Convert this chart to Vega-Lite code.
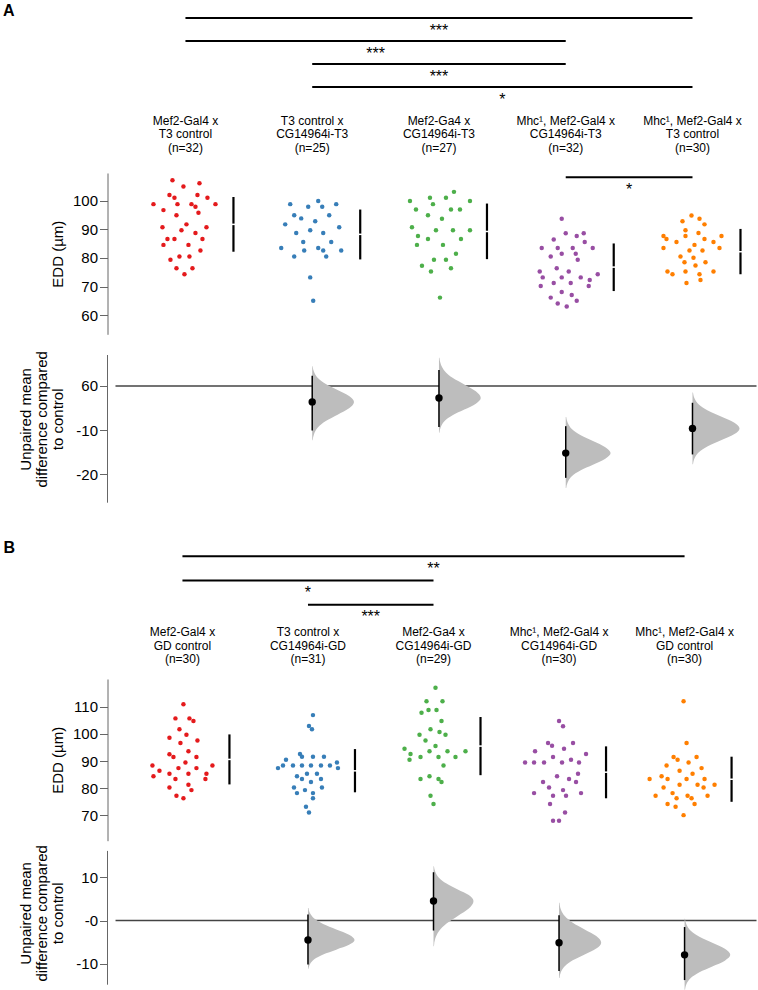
{
"$schema": "https://vega.github.io/schema/vega-lite/v6.json",
"padding": {"left": 2.5, "top": 0, "right": 0, "bottom": 0},
"bounds": "flush",
"spacing": 0,
"config": {
  "view": {"stroke": null},
  "font": "Liberation Sans",
  "axis": {"labelFontSize": 15, "titleFontSize": 15, "titleFontWeight": "normal", "labelColor": "black", "titleColor": "black", "domainColor": "#666", "tickColor": "#666", "tickSize": 8, "labelPadding": 2, "grid": false, "titleLineHeight": 16},
  "text": {"color": "black", "font": "Liberation Sans"}
},
"datasets": {
  "sigA": [{"a":1,"b":5,"r":1,"s":"***"},{"a":1,"b":4,"r":2,"s":"***"},{"a":2,"b":4,"r":3,"s":"***"},{"a":2,"b":5,"r":4,"s":"*"}],
  "sigAs": [{"a":4,"b":5,"r":108.3,"s":"*"}],
  "sigB": [{"a":1,"b":5,"r":1,"s":"**"},{"a":1,"b":3,"r":2,"s":"*"},{"a":2,"b":3,"r":3,"s":"***"}],
  "labA": [
    {"g":1,"t":"Mef2-Gal4 x\nT3 control\n(n=32)"},
    {"g":2,"t":"T3 control x\nCG14964i-T3\n(n=25)"},
    {"g":3,"t":"Mef2-Ga4 x\nCG14964i-T3\n(n=27)"},
    {"g":4,"t":"Mhc¹, Mef2-Gal4 x\nCG14964i-T3\n(n=32)"},
    {"g":5,"t":"Mhc¹, Mef2-Gal4 x\nT3 control\n(n=30)"}],
  "labB": [
    {"g":1,"t":"Mef2-Gal4 x\nGD control\n(n=30)"},
    {"g":2,"t":"T3 control x\nCG14964i-GD\n(n=31)"},
    {"g":3,"t":"Mef2-Ga4 x\nCG14964i-GD\n(n=29)"},
    {"g":4,"t":"Mhc¹, Mef2-Gal4 x\nCG14964i-GD\n(n=30)"},
    {"g":5,"t":"Mhc¹, Mef2-Gal4 x\nGD control\n(n=30)"}],
  "swA": [
    {"g":1,"v":107.3,"j":-13},{"g":1,"v":105.1,"j":-2},{"g":1,"v":106.2,"j":14},{"g":1,"v":102.1,"j":-16},{"g":1,"v":101.1,"j":-11},{"g":1,"v":102.1,"j":12},{"g":1,"v":101.1,"j":22},{"g":1,"v":98.9,"j":-32},{"g":1,"v":98.9,"j":-8},{"g":1,"v":98.9,"j":6},{"g":1,"v":98.0,"j":10},{"g":1,"v":98.9,"j":30},{"g":1,"v":96.8,"j":-22},{"g":1,"v":95.9,"j":13},{"g":1,"v":95.0,"j":-9},{"g":1,"v":91.8,"j":1},{"g":1,"v":90.8,"j":-23},{"g":1,"v":89.7,"j":-4},{"g":1,"v":88.8,"j":10},{"g":1,"v":90.8,"j":21},{"g":1,"v":86.7,"j":-18},{"g":1,"v":86.7,"j":-11},{"g":1,"v":86.7,"j":17},{"g":1,"v":84.6,"j":-22},{"g":1,"v":84.6,"j":3},{"g":1,"v":82.6,"j":15},{"g":1,"v":80.5,"j":-6},{"g":1,"v":80.5,"j":4},{"g":1,"v":79.4,"j":-15},{"g":1,"v":76.4,"j":-9},{"g":1,"v":76.4,"j":7},{"g":1,"v":74.3,"j":-1},
    {"g":2,"v":100.0,"j":6},{"g":2,"v":98.9,"j":-22},{"g":2,"v":98.0,"j":-4},{"g":2,"v":98.0,"j":10},{"g":2,"v":98.9,"j":24},{"g":2,"v":95.0,"j":-18},{"g":2,"v":93.9,"j":-11},{"g":2,"v":95.0,"j":17},{"g":2,"v":92.9,"j":3},{"g":2,"v":91.8,"j":-27},{"g":2,"v":90.8,"j":27},{"g":2,"v":89.7,"j":-2},{"g":2,"v":88.8,"j":-16},{"g":2,"v":88.8,"j":11},{"g":2,"v":85.6,"j":-9},{"g":2,"v":85.6,"j":19},{"g":2,"v":83.5,"j":-31},{"g":2,"v":82.6,"j":-8},{"g":2,"v":83.5,"j":6},{"g":2,"v":82.6,"j":11},{"g":2,"v":82.6,"j":29},{"g":2,"v":80.5,"j":-18},{"g":2,"v":80.5,"j":14},{"g":2,"v":73.2,"j":-2},{"g":2,"v":65.0,"j":1},
    {"g":3,"v":103.2,"j":15},{"g":3,"v":101.1,"j":-9},{"g":3,"v":101.1,"j":7},{"g":3,"v":100.0,"j":-29},{"g":3,"v":100.0,"j":31},{"g":3,"v":98.9,"j":-6},{"g":3,"v":97.0,"j":-23},{"g":3,"v":97.0,"j":12},{"g":3,"v":97.0,"j":21},{"g":3,"v":95.0,"j":-11},{"g":3,"v":93.8,"j":3},{"g":3,"v":90.8,"j":-27},{"g":3,"v":89.7,"j":-3},{"g":3,"v":89.7,"j":14},{"g":3,"v":89.7,"j":31},{"g":3,"v":87.7,"j":-21},{"g":3,"v":86.7,"j":-11},{"g":3,"v":86.7,"j":22},{"g":3,"v":84.6,"j":-22},{"g":3,"v":84.6,"j":4},{"g":3,"v":81.5,"j":17},{"g":3,"v":79.4,"j":-5},{"g":3,"v":79.4,"j":7},{"g":3,"v":77.3,"j":-17},{"g":3,"v":76.4,"j":12},{"g":3,"v":75.3,"j":-8},{"g":3,"v":66.1,"j":1},
    {"g":4,"v":93.8,"j":-4},{"g":4,"v":88.7,"j":0},{"g":4,"v":87.7,"j":11},{"g":4,"v":88.7,"j":18},{"g":4,"v":86.5,"j":-12},{"g":4,"v":85.6,"j":19},{"g":4,"v":83.5,"j":-24},{"g":4,"v":83.5,"j":-8},{"g":4,"v":83.5,"j":7},{"g":4,"v":83.5,"j":27},{"g":4,"v":81.5,"j":-4},{"g":4,"v":81.5,"j":10},{"g":4,"v":80.5,"j":-15},{"g":4,"v":79.4,"j":12},{"g":4,"v":76.4,"j":-9},{"g":4,"v":75.3,"j":-26},{"g":4,"v":75.3,"j":3},{"g":4,"v":74.3,"j":32},{"g":4,"v":73.2,"j":-23},{"g":4,"v":73.2,"j":-4},{"g":4,"v":73.2,"j":15},{"g":4,"v":72.3,"j":24},{"g":4,"v":71.2,"j":-12},{"g":4,"v":71.2,"j":5},{"g":4,"v":70.2,"j":-25},{"g":4,"v":70.2,"j":23},{"g":4,"v":68.1,"j":-4},{"g":4,"v":67.0,"j":6},{"g":4,"v":66.1,"j":-15},{"g":4,"v":65.0,"j":11},{"g":4,"v":64.0,"j":-8},{"g":4,"v":63.0,"j":1},
    {"g":5,"v":94.9,"j":-1},{"g":5,"v":93.8,"j":7},{"g":5,"v":92.9,"j":-10},{"g":5,"v":91.8,"j":12},{"g":5,"v":89.7,"j":-7},{"g":5,"v":88.8,"j":6},{"g":5,"v":87.7,"j":-29},{"g":5,"v":87.7,"j":29},{"g":5,"v":86.7,"j":-26},{"g":5,"v":87.7,"j":-7},{"g":5,"v":86.7,"j":12},{"g":5,"v":85.6,"j":-16},{"g":5,"v":85.6,"j":21},{"g":5,"v":84.6,"j":2},{"g":5,"v":83.5,"j":-29},{"g":5,"v":83.5,"j":27},{"g":5,"v":82.6,"j":-3},{"g":5,"v":82.6,"j":10},{"g":5,"v":80.5,"j":-12},{"g":5,"v":80.1,"j":1},{"g":5,"v":78.5,"j":-8},{"g":5,"v":78.5,"j":13},{"g":5,"v":77.4,"j":3},{"g":5,"v":75.3,"j":-25},{"g":5,"v":74.3,"j":-20},{"g":5,"v":75.3,"j":-7},{"g":5,"v":74.3,"j":7},{"g":5,"v":75.3,"j":21},{"g":5,"v":72.3,"j":8},{"g":5,"v":71.2,"j":-6}],
  "swB": [
    {"g":1,"v":110.9,"j":1},{"g":1,"v":105.7,"j":-7},{"g":1,"v":105.7,"j":7},{"g":1,"v":104.7,"j":11},{"g":1,"v":101.7,"j":-3},{"g":1,"v":99.7,"j":4},{"g":1,"v":98.6,"j":-13},{"g":1,"v":97.6,"j":15},{"g":1,"v":96.6,"j":-2},{"g":1,"v":93.6,"j":6},{"g":1,"v":92.5,"j":-13},{"g":1,"v":91.5,"j":-9},{"g":1,"v":91.5,"j":14},{"g":1,"v":89.5,"j":3},{"g":1,"v":88.4,"j":-30},{"g":1,"v":88.4,"j":30},{"g":1,"v":87.4,"j":-4},{"g":1,"v":87.4,"j":14},{"g":1,"v":86.4,"j":-23},{"g":1,"v":85.3,"j":-13},{"g":1,"v":85.3,"j":6},{"g":1,"v":85.3,"j":24},{"g":1,"v":84.4,"j":-29},{"g":1,"v":83.4,"j":-7},{"g":1,"v":83.4,"j":23},{"g":1,"v":81.3,"j":6},{"g":1,"v":80.3,"j":-13},{"g":1,"v":79.3,"j":9},{"g":1,"v":77.2,"j":-6},{"g":1,"v":76.3,"j":1},
    {"g":2,"v":106.9,"j":5},{"g":2,"v":102.9,"j":1},{"g":2,"v":101.7,"j":4},{"g":2,"v":92.6,"j":-8},{"g":2,"v":91.6,"j":-6},{"g":2,"v":91.6,"j":5},{"g":2,"v":91.6,"j":16},{"g":2,"v":90.5,"j":-22},{"g":2,"v":88.4,"j":-25},{"g":2,"v":88.4,"j":-15},{"g":2,"v":88.4,"j":-6},{"g":2,"v":88.4,"j":3},{"g":2,"v":88.4,"j":13},{"g":2,"v":88.4,"j":22},{"g":2,"v":89.5,"j":29},{"g":2,"v":87.4,"j":-30},{"g":2,"v":87.4,"j":30},{"g":2,"v":85.3,"j":-1},{"g":2,"v":85.3,"j":9},{"g":2,"v":84.4,"j":-11},{"g":2,"v":83.4,"j":-6},{"g":2,"v":83.4,"j":13},{"g":2,"v":82.3,"j":3},{"g":2,"v":80.3,"j":-14},{"g":2,"v":80.3,"j":14},{"g":2,"v":79.3,"j":-3},{"g":2,"v":78.2,"j":-11},{"g":2,"v":78.2,"j":5},{"g":2,"v":76.3,"j":5},{"g":2,"v":73.2,"j":-2},{"g":2,"v":71.1,"j":1},
    {"g":3,"v":117.0,"j":2},{"g":3,"v":112.0,"j":-7},{"g":3,"v":112.0,"j":9},{"g":3,"v":107.8,"j":-12},{"g":3,"v":108.8,"j":-5},{"g":3,"v":108.8,"j":3},{"g":3,"v":104.7,"j":8},{"g":3,"v":101.7,"j":-3},{"g":3,"v":100.7,"j":6},{"g":3,"v":99.7,"j":12},{"g":3,"v":99.7,"j":-14},{"g":3,"v":97.6,"j":-8},{"g":3,"v":95.5,"j":2},{"g":3,"v":94.5,"j":-29},{"g":3,"v":92.6,"j":-23},{"g":3,"v":93.6,"j":-4},{"g":3,"v":93.6,"j":14},{"g":3,"v":93.6,"j":32},{"g":3,"v":90.5,"j":-24},{"g":3,"v":91.5,"j":-13},{"g":3,"v":91.5,"j":5},{"g":3,"v":91.5,"j":22},{"g":3,"v":88.4,"j":10},{"g":3,"v":83.4,"j":-13},{"g":3,"v":84.4,"j":-4},{"g":3,"v":83.4,"j":5},{"g":3,"v":82.3,"j":8},{"g":3,"v":77.2,"j":-3},{"g":3,"v":74.2,"j":0},
    {"g":4,"v":104.7,"j":0},{"g":4,"v":102.8,"j":4},{"g":4,"v":96.6,"j":-11},{"g":4,"v":95.6,"j":-7},{"g":4,"v":96.6,"j":14},{"g":4,"v":94.5,"j":5},{"g":4,"v":93.6,"j":-24},{"g":4,"v":92.6,"j":27},{"g":4,"v":91.5,"j":-6},{"g":4,"v":90.5,"j":12},{"g":4,"v":89.5,"j":-34},{"g":4,"v":89.5,"j":-25},{"g":4,"v":89.5,"j":-15},{"g":4,"v":89.5,"j":3},{"g":4,"v":89.5,"j":20},{"g":4,"v":85.3,"j":19},{"g":4,"v":84.4,"j":-2},{"g":4,"v":83.4,"j":10},{"g":4,"v":82.3,"j":-16},{"g":4,"v":82.3,"j":17},{"g":4,"v":80.3,"j":-10},{"g":4,"v":79.3,"j":4},{"g":4,"v":78.2,"j":-25},{"g":4,"v":77.2,"j":-6},{"g":4,"v":77.2,"j":7},{"g":4,"v":78.2,"j":22},{"g":4,"v":74.2,"j":-9},{"g":4,"v":71.1,"j":6},{"g":4,"v":68.0,"j":-6},{"g":4,"v":68.0,"j":0},
    {"g":5,"v":112.0,"j":-1},{"g":5,"v":96.6,"j":2},{"g":5,"v":91.5,"j":-11},{"g":5,"v":90.5,"j":-7},{"g":5,"v":91.5,"j":12},{"g":5,"v":88.4,"j":-18},{"g":5,"v":89.5,"j":4},{"g":5,"v":87.4,"j":17},{"g":5,"v":86.4,"j":-5},{"g":5,"v":85.3,"j":8},{"g":5,"v":83.4,"j":-35},{"g":5,"v":84.4,"j":-23},{"g":5,"v":83.4,"j":-17},{"g":5,"v":83.4,"j":2},{"g":5,"v":83.4,"j":20},{"g":5,"v":81.3,"j":-5},{"g":5,"v":81.3,"j":13},{"g":5,"v":81.3,"j":30},{"g":5,"v":80.3,"j":-21},{"g":5,"v":80.3,"j":19},{"g":5,"v":78.2,"j":-12},{"g":5,"v":77.2,"j":-29},{"g":5,"v":77.2,"j":3},{"g":5,"v":77.2,"j":23},{"g":5,"v":76.3,"j":-8},{"g":5,"v":76.3,"j":7},{"g":5,"v":74.2,"j":-17},{"g":5,"v":74.2,"j":10},{"g":5,"v":73.2,"j":-9},{"g":5,"v":70.1,"j":-1}],
  "sumA": [{"g":1,"m":91.8,"lo":82.2,"hi":101.4},{"g":2,"m":88.3,"lo":79.5,"hi":97.0},{"g":3,"m":89.3,"lo":79.6,"hi":99.1},{"g":4,"m":76.8,"lo":68.4,"hi":85.1},{"g":5,"m":82.2,"lo":74.3,"hi":90.2}],
  "sumB": [{"g":1,"m":90.6,"lo":81.4,"hi":99.8},{"g":2,"m":86.4,"lo":78.5,"hi":94.4},{"g":3,"m":95.5,"lo":84.8,"hi":106.2},{"g":4,"m":85.9,"lo":76.3,"hi":95.4},{"g":5,"m":83.3,"lo":75.0,"hi":91.6}],
  "estA": [{"g":2,"d":-3.6,"lo":-10.1,"hi":2.3},{"g":3,"d":-2.7,"lo":-9.3,"hi":3.6},{"g":4,"d":-15.2,"lo":-20.8,"hi":-9.1},{"g":5,"d":-9.6,"lo":-15.5,"hi":-3.8}],
  "estB": [{"g":2,"d":-4.5,"lo":-10.1,"hi":1.4},{"g":3,"d":4.5,"lo":-2.3,"hi":11.1},{"g":4,"d":-5.1,"lo":-11.6,"hi":1.2},{"g":5,"d":-7.9,"lo":-13.7,"hi":-1.5}],
  "vioA": [
    {"g":2,"v":4.5,"w":0.010},{"g":2,"v":3.15,"w":0.042},{"g":2,"v":1.8,"w":0.128},{"g":2,"v":0.45,"w":0.309},{"g":2,"v":-0.9,"w":0.577},{"g":2,"v":-2.25,"w":0.838},{"g":2,"v":-3.6,"w":0.95},{"g":2,"v":-5.05,"w":0.838},{"g":2,"v":-6.5,"w":0.577},{"g":2,"v":-7.95,"w":0.309},{"g":2,"v":-9.4,"w":0.128},{"g":2,"v":-10.85,"w":0.042},{"g":2,"v":-12.3,"w":0.010},
    {"g":3,"v":6.4,"w":0.010},{"g":3,"v":4.9,"w":0.042},{"g":3,"v":3.4,"w":0.128},{"g":3,"v":1.85,"w":0.309},{"g":3,"v":0.35,"w":0.577},{"g":3,"v":-1.2,"w":0.838},{"g":3,"v":-2.7,"w":0.95},{"g":3,"v":-4.0,"w":0.838},{"g":3,"v":-5.35,"w":0.577},{"g":3,"v":-6.65,"w":0.309},{"g":3,"v":-7.95,"w":0.128},{"g":3,"v":-9.3,"w":0.042},{"g":3,"v":-10.6,"w":0.010},
    {"g":4,"v":-7.0,"w":0.011},{"g":4,"v":-8.35,"w":0.045},{"g":4,"v":-9.75,"w":0.138},{"g":4,"v":-11.1,"w":0.332},{"g":4,"v":-12.45,"w":0.619},{"g":4,"v":-13.85,"w":0.9},{"g":4,"v":-15.2,"w":1.02},{"g":4,"v":-16.5,"w":0.9},{"g":4,"v":-17.85,"w":0.619},{"g":4,"v":-19.15,"w":0.332},{"g":4,"v":-20.45,"w":0.138},{"g":4,"v":-21.8,"w":0.045},{"g":4,"v":-23.1,"w":0.011},
    {"g":5,"v":-1.5,"w":0.012},{"g":5,"v":-2.85,"w":0.047},{"g":5,"v":-4.2,"w":0.144},{"g":5,"v":-5.55,"w":0.348},{"g":5,"v":-6.9,"w":0.649},{"g":5,"v":-8.25,"w":0.944},{"g":5,"v":-9.6,"w":1.07},{"g":5,"v":-10.95,"w":0.944},{"g":5,"v":-12.3,"w":0.649},{"g":5,"v":-13.65,"w":0.348},{"g":5,"v":-15.0,"w":0.144},{"g":5,"v":-16.35,"w":0.047},{"g":5,"v":-17.7,"w":0.012}],
  "vioB": [
    {"g":2,"v":2.9,"w":0.012},{"g":2,"v":1.65,"w":0.047},{"g":2,"v":0.45,"w":0.143},{"g":2,"v":-0.8,"w":0.345},{"g":2,"v":-2.05,"w":0.643},{"g":2,"v":-3.25,"w":0.935},{"g":2,"v":-4.5,"w":1.06},{"g":2,"v":-5.6,"w":0.935},{"g":2,"v":-6.7,"w":0.643},{"g":2,"v":-7.8,"w":0.345},{"g":2,"v":-8.9,"w":0.143},{"g":2,"v":-10.0,"w":0.047},{"g":2,"v":-11.1,"w":0.012},
    {"g":3,"v":12.5,"w":0.010},{"g":3,"v":11.2,"w":0.040},{"g":3,"v":9.85,"w":0.123},{"g":3,"v":8.5,"w":0.296},{"g":3,"v":7.15,"w":0.552},{"g":3,"v":5.85,"w":0.803},{"g":3,"v":4.5,"w":0.91},{"g":3,"v":2.75,"w":0.803},{"g":3,"v":1.05,"w":0.552},{"g":3,"v":-0.7,"w":0.296},{"g":3,"v":-2.45,"w":0.123},{"g":3,"v":-4.15,"w":0.040},{"g":3,"v":-5.9,"w":0.010},
    {"g":4,"v":4.1,"w":0.011},{"g":4,"v":2.55,"w":0.042},{"g":4,"v":1.05,"w":0.130},{"g":4,"v":-0.5,"w":0.312},{"g":4,"v":-2.05,"w":0.583},{"g":4,"v":-3.55,"w":0.847},{"g":4,"v":-5.1,"w":0.96},{"g":4,"v":-6.45,"w":0.847},{"g":4,"v":-7.8,"w":0.583},{"g":4,"v":-9.15,"w":0.312},{"g":4,"v":-10.5,"w":0.130},{"g":4,"v":-11.85,"w":0.042},{"g":4,"v":-13.2,"w":0.011},
    {"g":5,"v":0.4,"w":0.011},{"g":5,"v":-0.98,"w":0.046},{"g":5,"v":-2.37,"w":0.140},{"g":5,"v":-3.75,"w":0.338},{"g":5,"v":-5.13,"w":0.631},{"g":5,"v":-6.52,"w":0.917},{"g":5,"v":-7.9,"w":1.04},{"g":5,"v":-9.23,"w":0.917},{"g":5,"v":-10.57,"w":0.631},{"g":5,"v":-11.9,"w":0.338},{"g":5,"v":-13.23,"w":0.140},{"g":5,"v":-14.57,"w":0.046},{"g":5,"v":-15.9,"w":0.011}]
},
"vconcat": [
  {
    "width": 649, "height": 172.7,
    "layer": [
      {"data": {"name": "sigA"}, "mark": {"type": "rule", "strokeWidth": 2, "color": "black"},
       "encoding": {
         "x": {"field": "a", "type": "quantitative", "scale": {"domain": [0.385, 5.505], "nice": false, "zero": false}, "axis": null},
         "x2": {"field": "b"},
         "y": {"field": "r", "type": "quantitative", "scale": {"domain": [0.2174, 7.726], "reverse": true, "nice": false, "zero": false}, "axis": null}}},
      {"data": {"name": "sigA"}, "transform": [{"calculate": "(datum.a + datum.b) / 2", "as": "mid"}],
       "mark": {"type": "text", "fontSize": 16, "baseline": "middle", "dy": 12.5},
       "encoding": {"x": {"field": "mid", "type": "quantitative", "axis": null}, "y": {"field": "r", "type": "quantitative", "axis": null}, "text": {"field": "s"}}},
      {"data": {"name": "labA"}, "mark": {"type": "text", "fontSize": 12, "lineBreak": "\n", "lineHeight": 13.5, "baseline": "middle"},
       "encoding": {"x": {"field": "g", "type": "quantitative", "axis": null}, "y": {"datum": 5.478, "type": "quantitative", "axis": null}, "text": {"field": "t"}}},
      {"data": {"values": [{"t": "A"}]}, "mark": {"type": "text", "fontSize": 16, "fontWeight": "bold", "baseline": "middle"},
       "encoding": {"x": {"datum": -0.394, "type": "quantitative", "axis": null}, "y": {"datum": 0.687, "type": "quantitative", "axis": null}, "text": {"field": "t"}}}
    ]
  },
  {
    "width": 649, "height": 161.3,
    "layer": [
      {"data": {"name": "swA"}, "transform": [{"calculate": "datum.g + datum.j / 126.75", "as": "xp"}],
       "mark": {"type": "circle", "size": 20, "opacity": 1},
       "encoding": {
         "x": {"field": "xp", "type": "quantitative", "scale": {"domain": [0.385, 5.505], "nice": false, "zero": false}, "axis": null},
         "y": {"field": "v", "type": "quantitative", "scale": {"domain": [53.23, 109.82], "nice": false, "zero": false},
               "axis": {"values": [60, 70, 80, 90, 100], "title": "EDD (µm)", "titleX": -42}},
         "color": {"field": "g", "type": "nominal", "scale": {"domain": [1, 2, 3, 4, 5], "range": ["#e41a1c", "#377eb8", "#4daf4a", "#984ea3", "#ff7f00"]}, "legend": null}}},
      {"data": {"name": "sumA"}, "mark": {"type": "rule", "strokeWidth": 2.2, "color": "black", "xOffset": 48},
       "encoding": {"x": {"field": "g", "type": "quantitative"}, "y": {"field": "lo", "type": "quantitative"}, "y2": {"field": "hi"}}},
      {"data": {"name": "sumA"}, "mark": {"type": "tick", "orient": "horizontal", "color": "white", "thickness": 1.5, "size": 6, "xOffset": 48, "opacity": 1},
       "encoding": {"x": {"field": "g", "type": "quantitative"}, "y": {"field": "m", "type": "quantitative"}}},
      {"data": {"name": "sigAs"}, "mark": {"type": "rule", "strokeWidth": 2, "color": "black"},
       "encoding": {"x": {"field": "a", "type": "quantitative"}, "x2": {"field": "b"}, "y": {"field": "r", "type": "quantitative"}}},
      {"data": {"name": "sigAs"}, "transform": [{"calculate": "(datum.a + datum.b) / 2", "as": "mid"}],
       "mark": {"type": "text", "fontSize": 16, "baseline": "middle", "dy": 12.5},
       "encoding": {"x": {"field": "mid", "type": "quantitative"}, "y": {"field": "r", "type": "quantitative"}, "text": {"field": "s"}}}
    ]
  },
  {
    "width": 649, "height": 167.7,
    "layer": [
      {"data": {"values": [{}]}, "mark": {"type": "rule", "color": "#444", "strokeWidth": 1.5},
       "encoding": {
         "x": {"datum": 0.448, "type": "quantitative", "scale": {"domain": [0.385, 5.505], "nice": false, "zero": false}, "axis": null},
         "x2": {"datum": 5.505},
         "y": {"datum": 0, "type": "quantitative", "scale": {"domain": [-26.43, 11.55], "nice": false, "zero": false},
               "axis": {"values": [0, -10, -20], "domain": false, "labelExpr": "datum.value === 0 ? '60' : '' + datum.value", "title": ["Unpaired mean", "difference compared", "to control"], "titleX": -74}}}},
      {"data": {"values": [{}]}, "mark": {"type": "rule", "color": "#666", "strokeWidth": 1},
       "encoding": {"x": {"datum": 0.385, "type": "quantitative"}, "y": {"datum": 7.02, "type": "quantitative"}, "y2": {"datum": -26.43}}},
      {"data": {"name": "vioA"}, "transform": [{"calculate": "datum.g + datum.w * 0.347", "as": "xr"}],
       "mark": {"type": "area", "orient": "horizontal", "interpolate": "monotone", "color": "#bdbdbd", "opacity": 1},
       "encoding": {"y": {"field": "v", "type": "quantitative"}, "x": {"field": "xr", "type": "quantitative"}, "x2": {"field": "g"}, "detail": {"field": "g"}}},
      {"data": {"name": "estA"}, "mark": {"type": "rule", "color": "black", "strokeWidth": 1.5},
       "encoding": {"x": {"field": "g", "type": "quantitative"}, "y": {"field": "lo", "type": "quantitative"}, "y2": {"field": "hi"}}},
      {"data": {"name": "estA"}, "mark": {"type": "circle", "color": "black", "size": 55, "opacity": 1},
       "encoding": {"x": {"field": "g", "type": "quantitative"}, "y": {"field": "d", "type": "quantitative"}}}
    ]
  },
  {
    "width": 649, "height": 175.6,
    "layer": [
      {"data": {"name": "sigB"}, "mark": {"type": "rule", "strokeWidth": 2, "color": "black"},
       "encoding": {
         "x": {"field": "a", "type": "quantitative", "scale": {"domain": [0.403, 5.573], "nice": false, "zero": false}, "axis": null},
         "x2": {"field": "b"},
         "y": {"field": "r", "type": "quantitative", "scale": {"domain": [-1.198, 6.043], "reverse": true, "nice": false, "zero": false}, "axis": null}}},
      {"data": {"name": "sigB"}, "transform": [{"calculate": "(datum.a + datum.b) / 2", "as": "mid"}],
       "mark": {"type": "text", "fontSize": 16, "baseline": "middle", "dy": 12.5},
       "encoding": {"x": {"field": "mid", "type": "quantitative", "axis": null}, "y": {"field": "r", "type": "quantitative", "axis": null}, "text": {"field": "s"}}},
      {"data": {"name": "labB"}, "mark": {"type": "text", "fontSize": 12, "lineBreak": "\n", "lineHeight": 13.5, "baseline": "middle"},
       "encoding": {"x": {"field": "g", "type": "quantitative", "axis": null}, "y": {"datum": 4.122, "type": "quantitative", "axis": null}, "text": {"field": "t"}}},
      {"data": {"values": [{"t": "B"}]}, "mark": {"type": "text", "fontSize": 16, "fontWeight": "bold", "baseline": "middle"},
       "encoding": {"x": {"datum": -0.379, "type": "quantitative", "axis": null}, "y": {"datum": 0.670, "type": "quantitative", "axis": null}, "text": {"field": "t"}}}
    ]
  },
  {
    "width": 649, "height": 161.7,
    "layer": [
      {"data": {"name": "swB"}, "transform": [{"calculate": "datum.g + datum.j / 125.6", "as": "xp"}],
       "mark": {"type": "circle", "size": 20, "opacity": 1},
       "encoding": {
         "x": {"field": "xp", "type": "quantitative", "scale": {"domain": [0.403, 5.573], "nice": false, "zero": false}, "axis": null},
         "y": {"field": "v", "type": "quantitative", "scale": {"domain": [60.69, 120.19], "nice": false, "zero": false},
               "axis": {"values": [70, 80, 90, 100, 110], "title": "EDD (µm)", "titleX": -42}},
         "color": {"field": "g", "type": "nominal", "scale": {"domain": [1, 2, 3, 4, 5], "range": ["#e41a1c", "#377eb8", "#4daf4a", "#984ea3", "#ff7f00"]}, "legend": null}}},
      {"data": {"name": "sumB"}, "mark": {"type": "rule", "strokeWidth": 2.2, "color": "black", "xOffset": 47},
       "encoding": {"x": {"field": "g", "type": "quantitative"}, "y": {"field": "lo", "type": "quantitative"}, "y2": {"field": "hi"}}},
      {"data": {"name": "sumB"}, "mark": {"type": "tick", "orient": "horizontal", "color": "white", "thickness": 1.5, "size": 6, "xOffset": 47, "opacity": 1},
       "encoding": {"x": {"field": "g", "type": "quantitative"}, "y": {"field": "m", "type": "quantitative"}}}
    ]
  },
  {
    "width": 649, "height": 143.7,
    "layer": [
      {"data": {"values": [{}]}, "mark": {"type": "rule", "color": "#444", "strokeWidth": 1.5},
       "encoding": {
         "x": {"datum": 0.467, "type": "quantitative", "scale": {"domain": [0.403, 5.573], "nice": false, "zero": false}, "axis": null},
         "x2": {"datum": 5.573},
         "y": {"datum": 0, "type": "quantitative", "scale": {"domain": [-14.76, 18.28], "nice": false, "zero": false},
               "axis": {"values": [10, 0, -10], "domain": false, "labelExpr": "datum.value === 0 ? '-0' : '' + datum.value", "title": ["Unpaired mean", "difference compared", "to control"], "titleX": -74}}}},
      {"data": {"values": [{}]}, "mark": {"type": "rule", "color": "#666", "strokeWidth": 1},
       "encoding": {"x": {"datum": 0.403, "type": "quantitative"}, "y": {"datum": 16.0, "type": "quantitative"}, "y2": {"datum": -14.76}}},
      {"data": {"name": "vioB"}, "transform": [{"calculate": "datum.g + datum.w * 0.35", "as": "xr"}],
       "mark": {"type": "area", "orient": "horizontal", "interpolate": "monotone", "color": "#bdbdbd", "opacity": 1},
       "encoding": {"y": {"field": "v", "type": "quantitative"}, "x": {"field": "xr", "type": "quantitative"}, "x2": {"field": "g"}, "detail": {"field": "g"}}},
      {"data": {"name": "estB"}, "mark": {"type": "rule", "color": "black", "strokeWidth": 1.5},
       "encoding": {"x": {"field": "g", "type": "quantitative"}, "y": {"field": "lo", "type": "quantitative"}, "y2": {"field": "hi"}}},
      {"data": {"name": "estB"}, "mark": {"type": "circle", "color": "black", "size": 55, "opacity": 1},
       "encoding": {"x": {"field": "g", "type": "quantitative"}, "y": {"field": "d", "type": "quantitative"}}}
    ]
  }
]
}
